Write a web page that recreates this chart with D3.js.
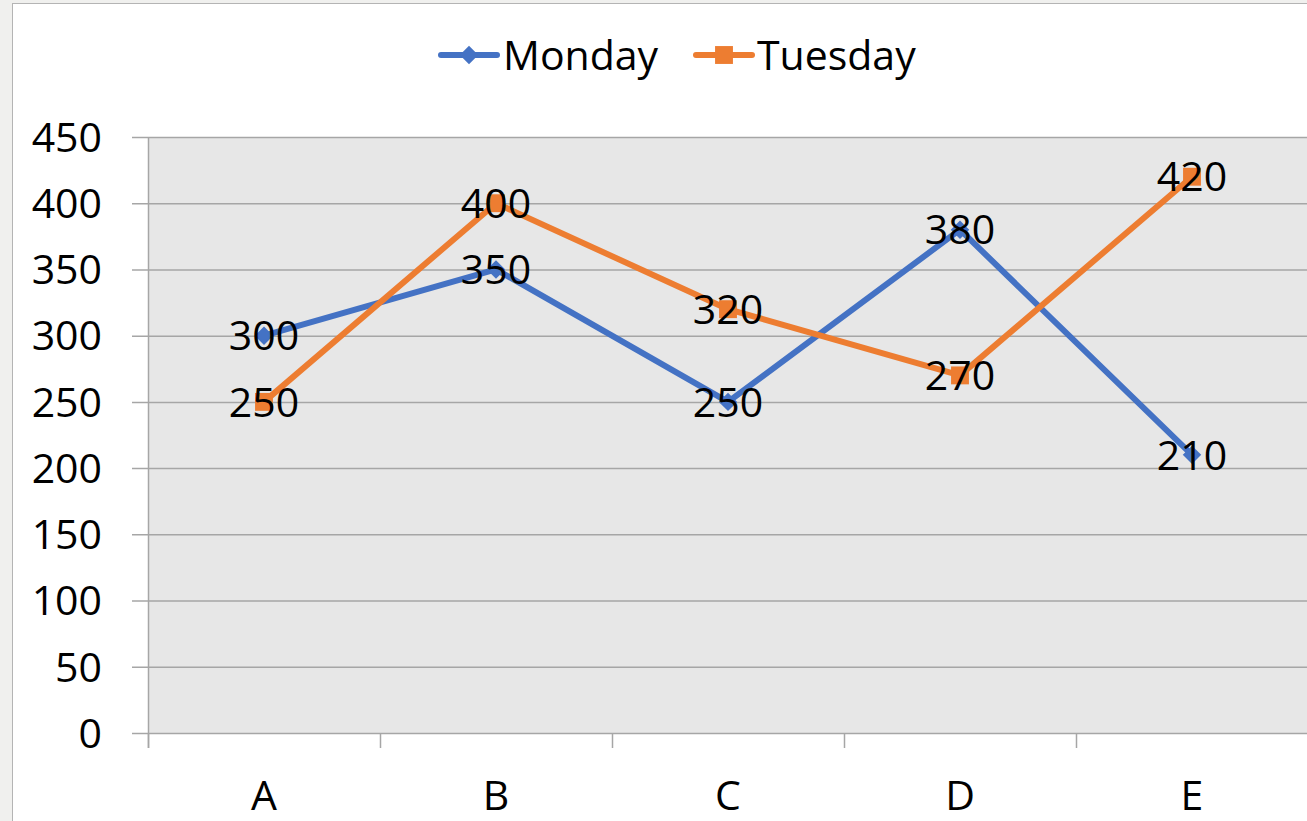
<!DOCTYPE html>
<html>
<head>
  <meta charset="UTF-8">
  <script src="https://cdn.jsdelivr.net/npm/d3@7/dist/d3.min.js"></script>
  <style>
    body { margin: 0; background: #f0f0ee; }
    text { font-family: "Open Sans", "Liberation Sans", Arial, sans-serif; fill: #000; }
  </style>
</head>
<body>
<script>
  var categories = ["A", "B", "C", "D", "E"];
  var monday = [300, 350, 250, 380, 210];
  var tuesday = [250, 400, 320, 270, 420];
  var yTicks = [0, 50, 100, 150, 200, 250, 300, 350, 400, 450];

  var width = 1307, height = 821;
  var plot = { left: 148, right: 1308, top: 137, bottom: 733 };
  var fs = "41px";

  var svg = d3.select("body").append("svg")
    .attr("width", width)
    .attr("height", height);

  // chart frame
  svg.append("rect")
    .attr("x", 12.5).attr("y", 3.5)
    .attr("width", 1310).attr("height", 830)
    .attr("fill", "#fff")
    .attr("stroke", "#b4b4b4");

  var x = d3.scaleBand().domain(categories).range([plot.left, plot.right]);
  var y = d3.scaleLinear().domain([0, 450]).range([plot.bottom, plot.top]);

  svg.append("rect")
    .attr("x", plot.left).attr("y", plot.top)
    .attr("width", plot.right - plot.left).attr("height", plot.bottom - plot.top)
    .attr("fill", "#e7e7e7");

  // grid lines + y labels
  svg.selectAll(".grid").data(yTicks).enter().append("line")
    .attr("x1", plot.left - 16).attr("x2", plot.right)
    .attr("y1", function (d) { return y(d) + 0.5; })
    .attr("y2", function (d) { return y(d) + 0.5; })
    .attr("stroke", "#a6a6a6").attr("stroke-width", 1.5);

  svg.selectAll(".ylab").data(yTicks).enter().append("text")
    .attr("x", 102)
    .attr("y", function (d) { return y(d); })
    .attr("dy", "0.36em")
    .attr("text-anchor", "end")
    .style("font-size", fs)
    .text(function (d) { return d; });

  // y axis line
  svg.append("line")
    .attr("x1", plot.left + 0.5).attr("x2", plot.left + 0.5)
    .attr("y1", plot.top).attr("y2", plot.bottom + 15)
    .attr("stroke", "#a6a6a6").attr("stroke-width", 1.5);

  // category ticks
  var tickPos = categories.map(function (c) { return x(c); }).concat([plot.right]);
  svg.selectAll(".xtick").data(tickPos).enter().append("line")
    .attr("x1", function (d) { return d + 0.5; })
    .attr("x2", function (d) { return d + 0.5; })
    .attr("y1", plot.bottom).attr("y2", plot.bottom + 15)
    .attr("stroke", "#a6a6a6").attr("stroke-width", 1.5);

  svg.selectAll(".xlab").data(categories).enter().append("text")
    .attr("x", function (d) { return x(d) + x.bandwidth() / 2; })
    .attr("y", 810)
    .attr("text-anchor", "middle")
    .style("font-size", fs)
    .text(function (d) { return d; });

  var cx = function (d, i) { return x(categories[i]) + x.bandwidth() / 2; };
  var line = d3.line().x(cx).y(function (d) { return y(d); });

  var series = [
    { name: "Monday", values: monday, color: "#4472c4", marker: "diamond" },
    { name: "Tuesday", values: tuesday, color: "#ed7d31", marker: "square" }
  ];

  var markerPath = {
    diamond: d3.symbol().type(d3.symbolSquare).size(170)(),
    square: d3.symbol().type(d3.symbolSquare).size(320)()
  };
  var markerRot = { diamond: 45, square: 0 };

  series.forEach(function (s) {
    svg.append("path")
      .attr("d", line(s.values))
      .attr("fill", "none")
      .attr("stroke", s.color)
      .attr("stroke-width", 6)
      .attr("stroke-linejoin", "round")
      .attr("stroke-linecap", "round");

    svg.selectAll(null).data(s.values).enter().append("path")
      .attr("d", markerPath[s.marker])
      .attr("transform", function (d, i) {
        return "translate(" + cx(d, i) + "," + y(d) + ") rotate(" + markerRot[s.marker] + ")";
      })
      .attr("fill", s.color);
  });

  series.forEach(function (s) {
    svg.selectAll(null).data(s.values).enter().append("text")
      .attr("x", cx)
      .attr("y", function (d) { return y(d); })
      .attr("dy", "0.36em")
      .attr("text-anchor", "middle")
      .style("font-size", fs)
      .text(function (d) { return d; });
  });

  // legend
  var legend = [
    { s: series[0], x0: 441, tx: 503 },
    { s: series[1], x0: 696, tx: 757 }
  ];
  legend.forEach(function (l) {
    svg.append("line")
      .attr("x1", l.x0).attr("x2", l.x0 + 56)
      .attr("y1", 55).attr("y2", 55)
      .attr("stroke", l.s.color).attr("stroke-width", 6)
      .attr("stroke-linecap", "round");
    svg.append("path")
      .attr("d", markerPath[l.s.marker])
      .attr("transform", "translate(" + (l.x0 + 28) + ",55) rotate(" + markerRot[l.s.marker] + ")")
      .attr("fill", l.s.color);
    svg.append("text")
      .attr("x", l.tx).attr("y", 55)
      .attr("dy", "0.36em")
      .style("font-size", fs)
      .text(l.s.name);
  });
</script>
</body>
</html>
